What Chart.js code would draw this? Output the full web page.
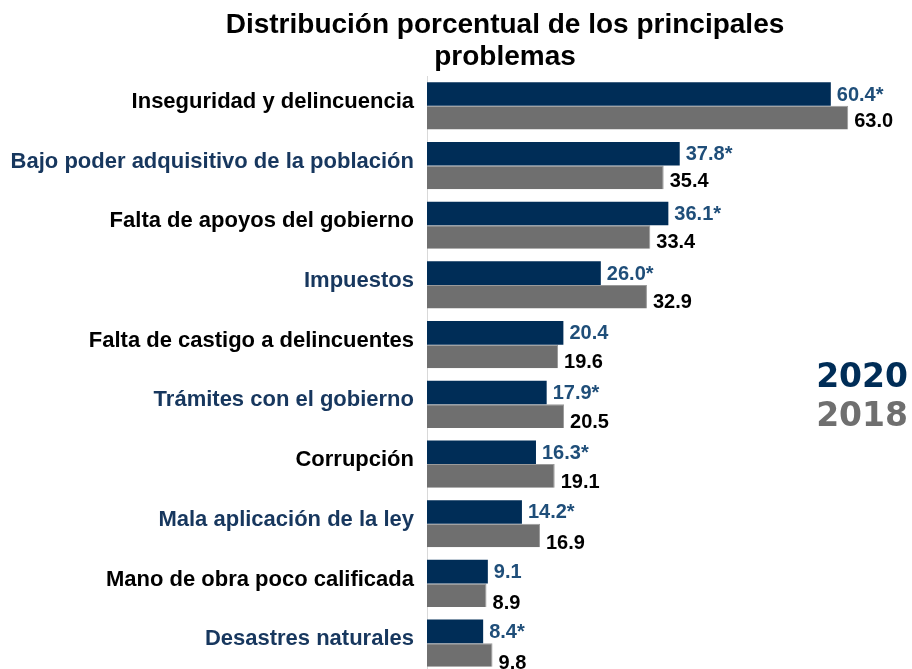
<!DOCTYPE html>
<html>
<head>
<meta charset="utf-8">
<script src="https://cdn.jsdelivr.net/npm/chart.js@4"></script>
<style>
  html, body { margin: 0; padding: 0; background: #fff; overflow: hidden; }
</style>
</head>
<body>
<canvas id="problemas_chart" width="912" height="676"></canvas>
<script>
const categories = [
    "Inseguridad y delincuencia",
    "Bajo poder adquisitivo de la población",
    "Falta de apoyos del gobierno",
    "Impuestos",
    "Falta de castigo a delincuentes",
    "Trámites con el gobierno",
    "Corrupción",
    "Mala aplicación de la ley",
    "Mano de obra poco calificada",
    "Desastres naturales"
];
const values2020 = [60.4, 37.8, 36.1, 26.0, 20.4, 17.9, 16.3, 14.2, 9.1, 8.4];
const values2018 = [63.0, 35.4, 33.4, 32.9, 19.6, 20.5, 19.1, 16.9, 8.9, 9.8];
// diferencia significativa marcada con asterisco
const significant2020 = [true, true, true, true, false, true, true, true, false, true];
const titleLines = ["Distribución porcentual de los principales", "problemas"];

const NAVY = "#002d57";
const GRAY = "#6f6f6f";
const LABEL_BLUE = "#1f4e79";
const CAT_BLUE = "#17375e";

const extraText = {
    id: "extraText",
    afterDatasetsDraw(chart) {
        const c = chart.ctx;
        c.save();
        // etiquetas de valor (las de 2018 quedan algo bajo la barra)
        c.font = "bold 20px 'Liberation Sans', Arial, sans-serif";
        c.textBaseline = "middle";
        c.textAlign = "left";
        chart.data.datasets.forEach((ds, di) => {
            chart.getDatasetMeta(di).data.forEach((bar, i) => {
                let txt = ds.data[i].toFixed(1);
                if (di === 0 && significant2020[i]) txt += "*";
                c.fillStyle = di === 0 ? LABEL_BLUE : "#000";
                const dy = di === 0 ? 1 : 4 + i * 0.5;
                c.fillText(txt, bar.x + 6, bar.y + dy);
            });
        });
        // titulo
        c.fillStyle = "#000";
        c.textAlign = "center";
        c.font = "bold 28px 'Liberation Sans Narrow', 'Arial Narrow', sans-serif";
        c.fillText(titleLines[0], 505, 25);
        c.fillText(titleLines[1], 505, 57);
        // leyenda
        c.textAlign = "right";
        c.font = "bold 33px 'DejaVu Sans', Verdana, sans-serif";
        c.fillStyle = NAVY;
        c.fillText("2020", 908, 378);
        c.fillStyle = GRAY;
        c.fillText("2018", 908, 417);
        c.restore();
    }
};

new Chart(document.getElementById("problemas_chart"), {
    type: "bar",
    data: {
        labels: categories,
        datasets: [{
            label: "2020",
            data: values2020,
            backgroundColor: NAVY,
            borderColor: NAVY,
            borderWidth: 0
        }, {
            label: "2018",
            data: values2018,
            backgroundColor: GRAY,
            borderColor: "#9a9a9a",
            borderWidth: { right: 1, top: 1, bottom: 0, left: 0 }
        }]
    },
    options: {
        indexAxis: "y",
        responsive: false,
        animation: false,
        layout: { padding: { top: 76, right: 17, bottom: 3, left: 0 } },
        datasets: { bar: { categoryPercentage: 0.79, barPercentage: 1.0 } },
        plugins: {
            legend: { display: false },
            title: { display: false },
            tooltip: { enabled: false }
        },
        scales: {
            x: {
                display: false,
                min: 0,
                max: 70
            },
            y: {
                afterFit(scale) {
                    scale.width = 427;
                    scale.paddingTop = 0;
                    scale.paddingBottom = 0;
                },
                grid: { display: false, drawTicks: false },
                border: { display: true, color: "#d9d9d9", width: 1 },
                ticks: {
                    padding: 13,
                    labelOffset: -4,
                    color: (ctx) => ctx.index % 2 === 0 ? "#000" : CAT_BLUE,
                    font: { family: "'Liberation Sans', Arial, sans-serif", size: 22, weight: "bold" }
                }
            }
        }
    },
    plugins: [extraText]
});
</script>
</body>
</html>
